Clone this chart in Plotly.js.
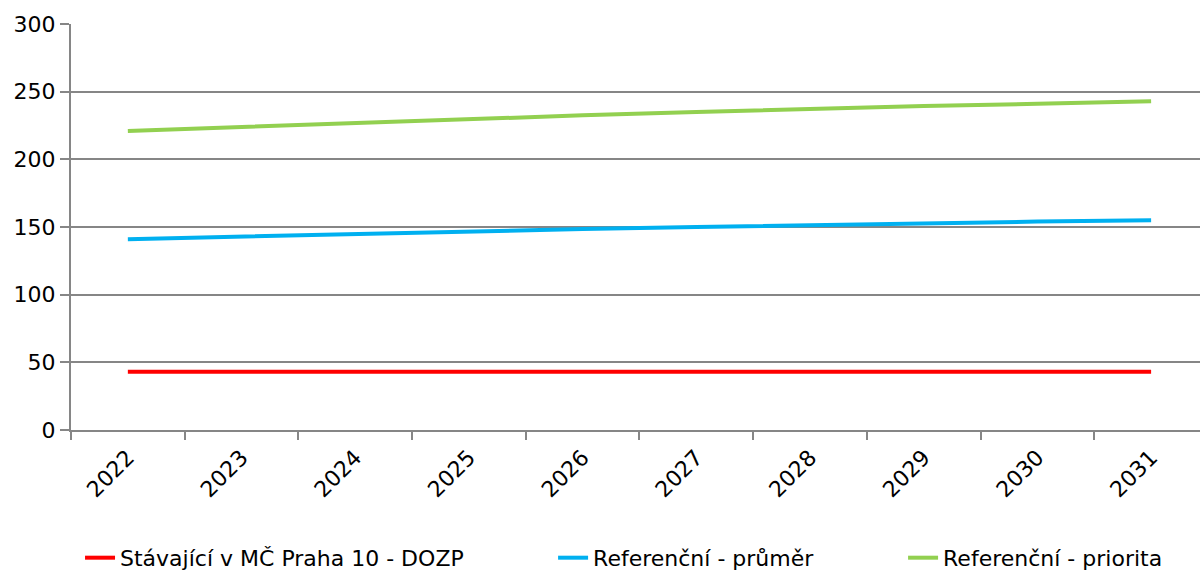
<!DOCTYPE html>
<html>
<head>
<meta charset="utf-8">
<script src="https://cdn.plot.ly/plotly-3.0.1.min.js"></script>
<style>html,body{margin:0;padding:0;background:#fff;}#chart{width:1200px;height:571px;}</style>
</head>
<body>
<div id="chart"></div>
<script>
const years = ['2022','2023','2024','2025','2026','2027','2028','2029','2030','2031'];
const stavajici = [43, 43, 43, 43, 43, 43, 43, 43, 43, 43];
const prumer = [141, 143, 145, 146.7, 148.5, 150, 151.5, 153, 154, 155];
const priorita = [221, 224, 227, 230, 232.5, 235, 237.5, 239.5, 241, 243];
const names = ['Stávající v MČ Praha 10 - DOZP', 'Referenční - průměr', 'Referenční - priorita'];

const font = {family: 'DejaVu Sans, Verdana, sans-serif', size: 22, color: '#000'};

const traces = [
  {x: years, y: stavajici, name: names[0], type: 'scatter', mode: 'lines', line: {color: '#FF0000', width: 4}, legend: 'legend'},
  {x: years, y: prumer, name: names[1], type: 'scatter', mode: 'lines', line: {color: '#00B0F0', width: 4}, legend: 'legend2'},
  {x: years, y: priorita, name: names[2], type: 'scatter', mode: 'lines', line: {color: '#92D050', width: 4}, legend: 'legend3'}
];

const legBase = {orientation: 'h', yanchor: 'middle', y: -0.315, xanchor: 'left', font: font, bgcolor: 'rgba(0,0,0,0)', itemwidth: 30};

const layout = {
  width: 1200, height: 571,
  margin: {l: 71, r: 0, t: 24, b: 141, autoexpand: false},
  paper_bgcolor: '#fff', plot_bgcolor: '#fff',
  font: font,
  showlegend: true,
  xaxis: {
    type: 'category', range: [-0.5, 9.43],
    tickangle: -45, ticks: 'outside', tickson: 'boundaries', ticklen: 8, tickwidth: 2, tickcolor: '#868686',
    showline: true, linecolor: '#868686', linewidth: 2,
    showgrid: false, tickfont: font, automargin: false, ticklabelstandoff: 4
  },
  yaxis: {
    range: [0, 300], dtick: 50, tick0: 0,
    ticks: 'outside', ticklen: 9, tickwidth: 2, tickcolor: '#868686',
    showline: true, linecolor: '#868686', linewidth: 2,
    showgrid: true, gridcolor: '#868686', gridwidth: 2,
    zeroline: false, tickfont: font, automargin: false
  },
  legend: Object.assign({}, legBase, {x: 0.008}),
  legend2: Object.assign({}, legBase, {x: 0.427}),
  legend3: Object.assign({}, legBase, {x: 0.737})
};

Plotly.newPlot('chart', traces, layout, {displayModeBar: false, staticPlot: true});
</script>
</body>
</html>
